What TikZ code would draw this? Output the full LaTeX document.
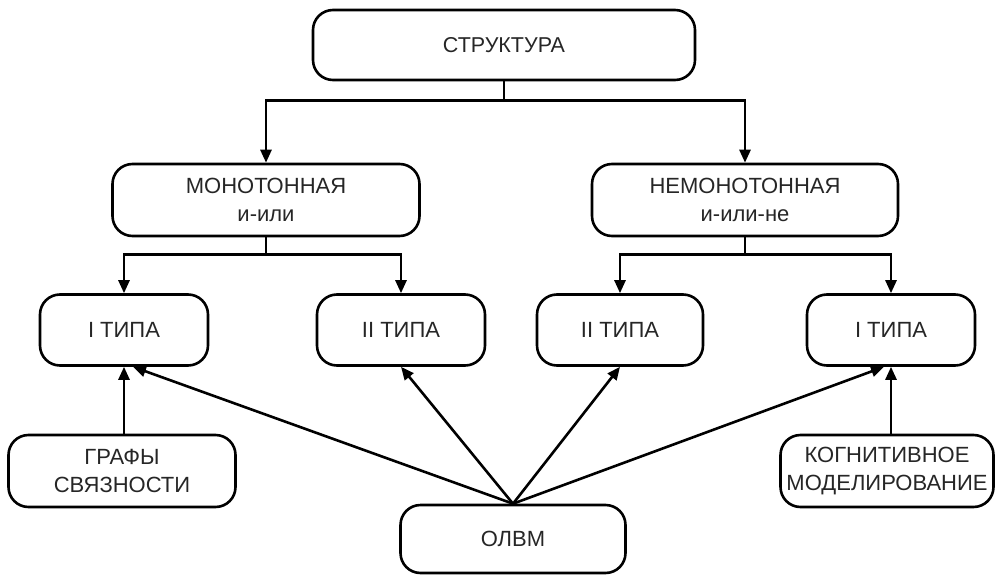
\documentclass[tikz,border=0pt]{standalone}
\usepackage{fontspec}
\setmainfont{Liberation Sans}
\usetikzlibrary{arrows.meta,calc}
\begin{document}
\begin{tikzpicture}[x=1pt,y=-1pt,
  box/.style={draw,line width=2.6pt,rounded corners=20pt,inner sep=0pt,align=center,
    font=\fontsize{22}{28}\selectfont,text=black!85},
  arr/.style={line width=2.6pt,-{Triangle[length=13pt,width=11pt]}},
  ln/.style={line width=2.6pt}]
\useasboundingbox (0,0) rectangle (995,575);
\node[box,minimum width=382pt,minimum height=70pt,font=\fontsize{21.5}{28}\selectfont] (S) at (504,45) {СТРУКТУРА};
\node[box,minimum width=307pt,minimum height=72pt] (M) at (266,200) {МОНОТОННАЯ\\и-или};
\node[box,minimum width=306pt,minimum height=72pt] (N) at (745,200) {НЕМОНОТОННАЯ\\и-или-не};
\node[box,minimum width=168pt,minimum height=71pt] (T1) at (124,330) {I ТИПА};
\node[box,minimum width=168pt,minimum height=71pt] (T2) at (401,330) {II ТИПА};
\node[box,minimum width=166pt,minimum height=71pt] (T3) at (620,330) {II ТИПА};
\node[box,minimum width=168pt,minimum height=71pt] (T4) at (891,330) {I ТИПА};
\node[box,minimum width=227pt,minimum height=72pt] (G) at (122,471) {ГРАФЫ\\СВЯЗНОСТИ};
\node[box,minimum width=213pt,minimum height=72pt] (K) at (887,471) {КОГНИТИВНОЕ\\МОДЕЛИРОВАНИЕ};
\node[box,minimum width=225pt,minimum height=68pt] (O) at (513,539) {ОЛВМ};
% tree connectors
\coordinate (s1) at ($(S.south)+(0,19)$);
\draw[ln] (S.south) -- (s1);
\draw[arr] (s1) -| (M.north);
\draw[arr] (s1) -| (N.north);
\coordinate (m1) at ($(M.south)+(0,17)$);
\draw[ln] (M.south) -- (m1);
\draw[arr] (m1) -| (T1.north);
\draw[arr] (m1) -| (T2.north);
\coordinate (n1) at ($(N.south)+(0,17)$);
\draw[ln] (N.south) -- (n1);
\draw[arr] (n1) -| (T3.north);
\draw[arr] (n1) -| (T4.north);
% bottom connectors
\draw[arr] (G.north -| T1.south) -- (T1.south);
\draw[arr] (K.north -| T4.south) -- (T4.south);
\draw[arr] (O.north) -- ($(T1.south)+(9,0)$);
\draw[arr] (O.north) -- (T2.south);
\draw[arr] (O.north) -- (T3.south);
\draw[arr] (O.north) -- ($(T4.south)+(-7,0)$);
\end{tikzpicture}
\end{document}
